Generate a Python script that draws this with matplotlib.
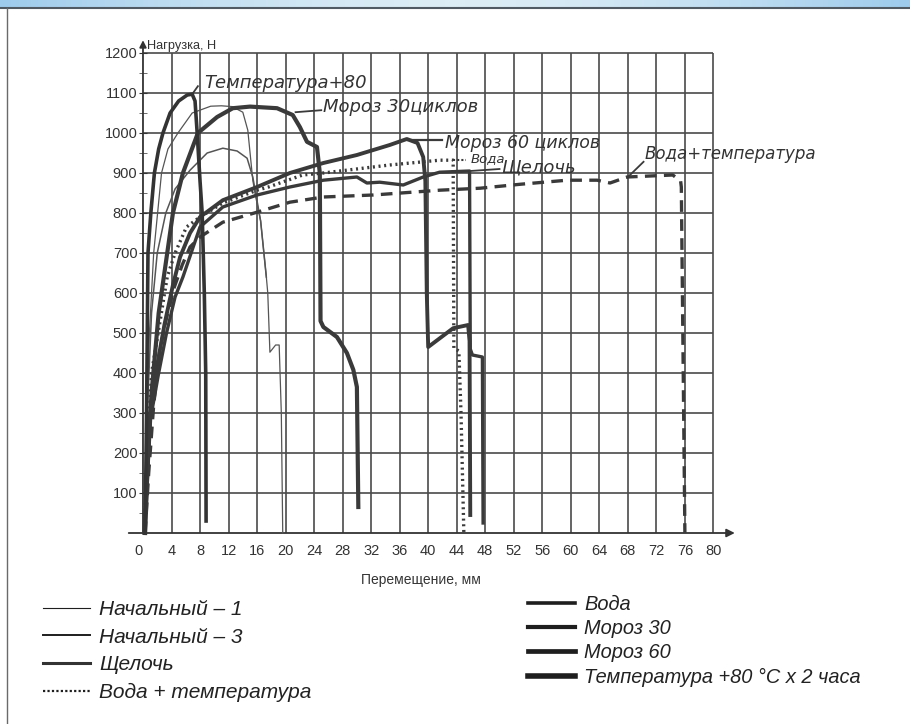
"""
Нагрузка – перемещение: кривые испытаний образцов после разных воздействий.
Recreated from a scanned chart: hand-drawn curves on a 4 mm x 100 N grid.
"""

import numpy as np
import matplotlib

matplotlib.use("Agg")
import matplotlib.pyplot as plt
from matplotlib.lines import Line2D

# ── Data ──────────────────────────────────────────────────────────────────────
# Начальный – 1 (thin, peak ~1068 N)
init1_x = [0.2, 0.5, 0.9, 1.5, 2.6, 3.5, 4.9, 6.9, 9.5, 11.0, 12.5, 14.0, 14.7,
           15.4, 15.7, 16.5, 17.3, 17.5, 17.8, 18.6, 19.1, 19.4, 19.6]
init1_y = [0, 250, 500, 700, 900, 960, 1000, 1050, 1067, 1068, 1066, 1052, 1007,
           882, 850, 780, 640, 600, 452, 470, 470, 300, 0]

# Начальный – 3 (thin, peak ~965 N)
init3_x = [0.2, 0.6, 1.2, 2.0, 3.2, 4.5, 6.6, 9.0, 11.2, 13.2, 14.6, 15.4, 15.9,
           16.5, 17.3]
init3_y = [0, 300, 550, 700, 800, 860, 907, 950, 962, 955, 937, 890, 840,
           780, 640]

# Щелочь
alk_x = [0.2, 0.5, 1.0, 2.2, 3.3, 4.5, 5.6, 8.0, 11.2, 16.0, 20.6, 25.3, 30.0,
         31.4, 33.2, 36.5, 39.3, 41.6, 45.8, 45.9, 46.2, 47.6, 47.7]
alk_y = [0, 100, 280, 400, 500, 590, 640, 765, 815, 845, 865, 882, 890,
         875, 877, 870, 890, 902, 905, 460, 445, 440, 25]

# Вода (dotted on the chart)
water_x = [0.2, 0.6, 1.2, 2.4, 3.4, 4.5, 6.1, 8.0, 11.2, 16.0, 17.6, 22.4, 25.3,
           34.6, 41.6, 43.5, 43.6, 44.3, 44.6, 45.0]
water_y = [0, 200, 400, 530, 640, 700, 765, 790, 825, 857, 865, 895, 900,
           920, 932, 932, 462, 455, 300, 0]

# Вода + температура (dashed on the chart)
wtemp_x = [0.3, 0.8, 1.5, 2.3, 3.2, 4.3, 5.5, 6.6, 8.0, 11.2, 16.0, 20.6, 25.3,
           32.3, 41.6, 47.3, 53.0, 59.5, 63.7, 65.5, 67.9, 74.3, 75.4, 75.5, 76.0]
wtemp_y = [0, 150, 320, 450, 530, 610, 670, 715, 740, 777, 802, 827, 840,
           845, 857, 862, 872, 882, 882, 875, 890, 895, 880, 865, 0]

# Мороз 30 циклов
frost30_x = [0.3, 0.6, 1.2, 2.2, 3.4, 4.2, 5.6, 7.7, 10.4, 12.6, 15.0, 18.8, 21.0,
             22.0, 23.0, 24.4, 24.8, 24.9, 25.3, 27.2, 28.6, 29.5, 30.0, 30.2]
frost30_y = [0, 150, 350, 550, 700, 800, 900, 1000, 1040, 1062, 1066, 1062, 1045,
             1015, 978, 965, 900, 530, 515, 490, 450, 408, 365, 65]

# Мороз 60 циклов
frost60_x = [0.2, 0.5, 1.0, 2.0, 3.0, 4.2, 5.2, 6.6, 8.0, 11.2, 16.0, 20.6, 25.3,
             30.0, 34.6, 37.0, 38.5, 39.3, 39.6, 39.8, 40.0, 43.5, 45.6, 45.8, 45.9]
frost60_y = [0, 100, 300, 420, 520, 620, 690, 750, 790, 832, 865, 900, 925,
             945, 970, 985, 975, 940, 880, 600, 465, 512, 520, 480, 45]

# Температура +80 °C x 2 часа
temp_x = [0.3, 0.5, 0.7, 1.1, 1.6, 2.2, 2.8, 3.8, 5.0, 6.2, 6.9, 7.3, 7.6, 8.0,
          8.3, 8.6, 8.8, 8.85]
temp_y = [0, 300, 700, 800, 900, 960, 1000, 1050, 1080, 1095, 1097, 1080, 1000, 880,
          800, 600, 400, 30]

x_ticks = list(range(0, 81, 4))
y_ticks = list(range(100, 1201, 100))

# ── Style ─────────────────────────────────────────────────────────────────────
INK = "#3a3a3a"
GRID = "#4a4a4a"
HAND = ["DejaVu Sans"]
PLAIN = ["Liberation Sans", "DejaVu Sans"]
LEG = ["Liberation Sans", "DejaVu Sans"]

fig = plt.figure(figsize=(9.1, 7.24), dpi=100)
fig.patch.set_facecolor("white")

# header strip (blue gradient) and the frame line on the left
head = fig.add_axes([0, 1 - 8 / 724, 1, 8 / 724])
grad = np.abs(np.linspace(-1, 1, 400)) ** 1.5
head.imshow(grad[None, :], aspect="auto", cmap=matplotlib.colors.LinearSegmentedColormap.from_list(
    "hdr", ["#dcedf5", "#9dcbec"]), extent=(0, 1, 0, 1))
head.axis("off")
fig.add_artist(Line2D([0, 1], [1 - 8 / 724] * 2, color="#505a62", lw=1.5))
fig.add_artist(Line2D([7 / 910] * 2, [0, 1 - 8 / 724], color="#6a6a6a", lw=1.0))

# ── Main axes: px = 143 + 7.13 * x, py = 533 - 0.4 * y ────────────────────────
ax = fig.add_axes([127.3 / 910, 1 - 537 / 724, (734.8 - 127.3) / 910, 500 / 724])
ax.set_xlim(-2.2, 83)
ax.set_ylim(-10, 1240)
for s in ax.spines.values():
    s.set_visible(False)
# ticks follow the (hidden) spines, so pin them to the data origin
ax.spines["left"].set_position(("data", 0))
ax.spines["bottom"].set_position(("data", 0))

ax.vlines(x_ticks[1:], 0, 1200, color=GRID, lw=1.2, zorder=1)
ax.hlines(y_ticks, 0, 80, color=GRID, lw=1.2, zorder=1)

# axis arrows
ax.annotate("", xy=(83, 0), xytext=(-2.0, 0),
            arrowprops=dict(arrowstyle="-|>", color="#333", lw=1.3, mutation_scale=12,
                            shrinkA=0, shrinkB=0), annotation_clip=False)
ax.annotate("", xy=(0, 1232), xytext=(0, 0),
            arrowprops=dict(arrowstyle="-|>", color="#333", lw=1.3, mutation_scale=10,
                            shrinkA=0, shrinkB=0), annotation_clip=False)

ax.set_xticks(x_ticks)
ax.set_xticklabels([str(v) for v in x_ticks], fontsize=10.5, color="#333", family=PLAIN)
ax.set_yticks(y_ticks)
ax.set_yticklabels([str(v) for v in y_ticks], fontsize=10.5, color="#333", family=PLAIN)
ax.set_yticks(list(range(50, 1201, 100)), minor=True)
ax.tick_params(axis="x", length=0, pad=8)
ax.tick_params(axis="y", which="major", length=6, direction="inout", color="#333", pad=1)
ax.tick_params(axis="y", which="minor", length=6, direction="inout", color="#555")
ax.xaxis.get_ticklabels()[0].set_ha("right")

ax.text(0.6, 1217, "Нагрузка, Н", fontsize=9.2, color="#333", family=PLAIN, va="center")
ax.text(39, -118, "Перемещение, мм", fontsize=10, color="#333", family=PLAIN,
        ha="center", va="center")

# ── Curves ────────────────────────────────────────────────────────────────────
ax.plot(init1_x, init1_y, color="#555", lw=0.9, zorder=3)
ax.plot(init3_x, init3_y, color="#555", lw=1.1, zorder=3)
ax.plot(alk_x, alk_y, color=INK, lw=2.4, zorder=4, solid_joinstyle="round")
ax.plot(water_x, water_y, color=INK, lw=2.4, ls=(0, (0.6, 1.1)), zorder=4)
ax.plot(wtemp_x, wtemp_y, color=INK, lw=2.4, ls=(0, (3.5, 2.2)), zorder=4)
ax.plot(frost30_x, frost30_y, color=INK, lw=3.0, zorder=5, solid_joinstyle="round")
ax.plot(frost60_x, frost60_y, color=INK, lw=2.8, zorder=5, solid_joinstyle="round")
ax.plot(temp_x, temp_y, color="#333", lw=2.6, zorder=5, solid_joinstyle="round")

# ── Hand-written labels with leaders ──────────────────────────────────────────
hand = dict(color="#333", family=HAND, style="italic", va="center", clip_on=False)
ax.plot([6.9, 7.7], [1097, 1117], color=INK, lw=1.3)
ax.text(8.6, 1124, "Температура+80", fontsize=13, **hand)
ax.plot([21.4, 25.0], [1052, 1057], color=INK, lw=1.3)
ax.text(25.2, 1065, "Мороз 30циклов", fontsize=13, **hand)
ax.plot([37.2, 42.0], [983, 983], color=INK, lw=1.6)
ax.text(42.3, 976, "Мороз 60 циклов", fontsize=12.5, **hand)
ax.plot([43.5, 45.3], [932, 932], color=INK, lw=1.5, ls=(0, (1, 1)))
ax.text(45.9, 936, "Вода", fontsize=9.5, **hand)
ax.plot([45.9, 50.0], [905, 910], color=INK, lw=1.3)
ax.text(50.3, 914, "Щелочь", fontsize=13, **hand)
ax.plot([67.9, 70.2], [888, 928], color=INK, lw=1.3)
ax.text(70.4, 948, "Вода+температура", fontsize=12, **hand)

# ── Legend (two columns below the chart) ──────────────────────────────────────
K = "#1e1e1e"
left_h = [Line2D([], [], color=K, lw=0.8), Line2D([], [], color=K, lw=1.4),
          Line2D([], [], color="#333", lw=2.2), Line2D([], [], color=K, lw=1.6, ls=(0, (1, 1)))]
left_l = ["Начальный – 1", "Начальный – 3", "Щелочь", "Вода + температура"]
right_h = [Line2D([], [], color=K, lw=2.6), Line2D([], [], color=K, lw=3.0),
           Line2D([], [], color=K, lw=3.4), Line2D([], [], color=K, lw=4.0)]
right_l = ["Вода", "Мороз 30", "Мороз 60", "Температура +80 °C x 2 часа"]

lp = dict(frameon=False, borderpad=0, borderaxespad=0, handletextpad=0.45)
leg1 = fig.legend(left_h, left_l, loc="upper left", bbox_to_anchor=(43 / 910, 1 - 600 / 724),
                  labelspacing=0.42, handlelength=2.26,
                  prop=dict(family=LEG, style="italic", size=15), **lp)
leg2 = fig.legend(right_h, right_l, loc="upper left", bbox_to_anchor=(528 / 910, 1 - 595 / 724),
                  labelspacing=0.26, handlelength=2.35,
                  prop=dict(family=LEG, style="italic", size=14.4), **lp)
for lg in (leg1, leg2):
    for t in lg.get_texts():
        t.set_color("#222")

fig.savefig("out.png", dpi=100, facecolor="white")
